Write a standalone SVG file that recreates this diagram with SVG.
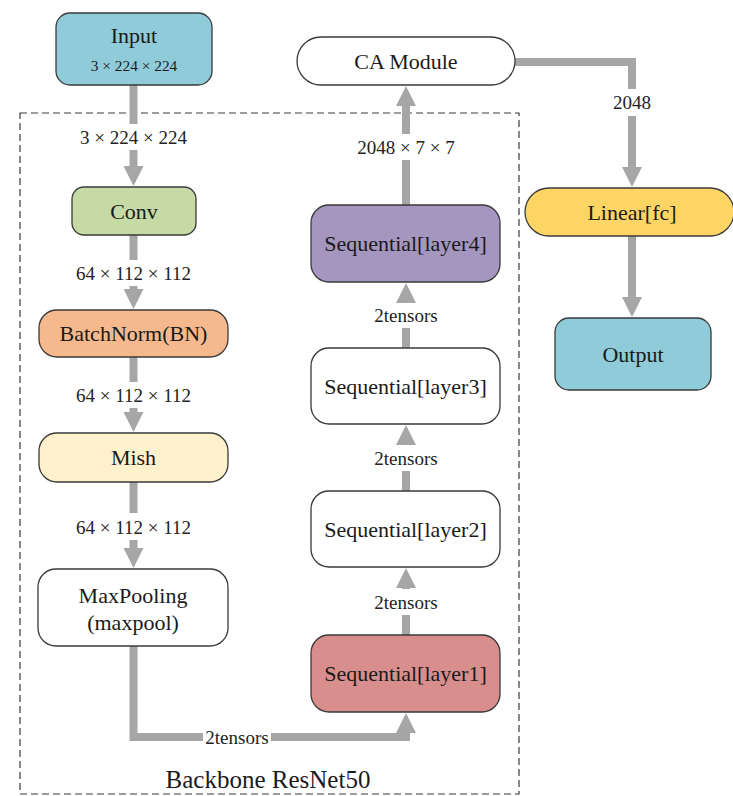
<svg xmlns="http://www.w3.org/2000/svg" width="733" height="796" viewBox="0 0 733 796">
  <defs>
    <marker id="head" viewBox="0 0 20 20" refX="8" refY="10" markerWidth="20" markerHeight="20" markerUnits="userSpaceOnUse" orient="auto">
      <path d="M0,0 L20,10 L0,20 Z" fill="#A6A6A6"/>
    </marker>
    <style>
      .node { stroke: #3a3a3a; stroke-width: 1.3; }
      .lbl { font-family: "Liberation Serif", "Times New Roman", serif; font-size: 22px; fill: #1a1a1a; text-anchor: middle; dominant-baseline: central; }
      .sub { font-family: "Liberation Serif", "Times New Roman", serif; font-size: 15.4px; fill: #1a1a1a; text-anchor: middle; dominant-baseline: central; }
      .elbl { font-family: "Liberation Serif", "Times New Roman", serif; font-size: 19px; fill: #222; text-anchor: middle; dominant-baseline: central; }
      .wire { fill: none; stroke: #A6A6A6; stroke-width: 8; stroke-linejoin: miter; stroke-linecap: butt; }
    </style>
  </defs>
  <rect width="733" height="796" fill="#ffffff"/>

  <!-- backbone container -->
  <g id="backbone">
    <rect x="20" y="113" width="499" height="681" fill="none" stroke="#3a3a3a" stroke-width="1.2" stroke-dasharray="7 4"/>
    <text class="lbl" x="268" y="779" style="font-size:25px">Backbone ResNet50</text>
  </g>

  <!-- connectors -->
  <g id="connectors">
    <path class="wire" d="M133.5,85 V124"/>
    <path class="wire" d="M133.5,150 V174" marker-end="url(#head)"/>
    <path class="wire" d="M133.5,235 V260"/>
    <path class="wire" d="M133.5,286 V297" marker-end="url(#head)"/>
    <path class="wire" d="M133.5,357 V382"/>
    <path class="wire" d="M133.5,408 V420" marker-end="url(#head)"/>
    <path class="wire" d="M133.5,482 V513"/>
    <path class="wire" d="M133.5,540 V556" marker-end="url(#head)"/>
    <path class="wire" d="M133.5,646 V737 H203"/>
    <path class="wire" d="M271,737 H406 V725" marker-end="url(#head)"/>
    <path class="wire" d="M406,635 V615"/>
    <path class="wire" d="M406,589 V580" marker-end="url(#head)"/>
    <path class="wire" d="M406,491 V471"/>
    <path class="wire" d="M406,445 V437" marker-end="url(#head)"/>
    <path class="wire" d="M406,348 V328"/>
    <path class="wire" d="M406,302 V295" marker-end="url(#head)"/>
    <path class="wire" d="M406,205 V160"/>
    <path class="wire" d="M406,134 V98" marker-end="url(#head)"/>
    <path class="wire" d="M515,62 H632 V89"/>
    <path class="wire" d="M632,116 V175" marker-end="url(#head)"/>
    <path class="wire" d="M632,236 V305" marker-end="url(#head)"/>

    <text class="elbl" x="133.5" y="137">3 × 224 × 224</text>
    <text class="elbl" x="133.5" y="273">64 × 112 × 112</text>
    <text class="elbl" x="133.5" y="395">64 × 112 × 112</text>
    <text class="elbl" x="133.5" y="527">64 × 112 × 112</text>
    <text class="elbl" x="237" y="737">2tensors</text>
    <text class="elbl" x="406" y="602">2tensors</text>
    <text class="elbl" x="406" y="458">2tensors</text>
    <text class="elbl" x="406" y="315">2tensors</text>
    <text class="elbl" x="406" y="147">2048 × 7 × 7</text>
    <text class="elbl" x="632" y="102">2048</text>
  </g>

  <!-- nodes -->
  <g id="input">
    <rect class="node" x="56" y="13" width="156" height="72" rx="14" fill="#8FCBD9"/>
    <text class="lbl" x="134" y="35">Input</text>
    <text class="sub" x="134" y="65">3 × 224 × 224</text>
  </g>
  <g id="conv">
    <rect class="node" x="72" y="187" width="124" height="48" rx="12" fill="#C5DAA4"/>
    <text class="lbl" x="134" y="211">Conv</text>
  </g>
  <g id="batchnorm">
    <rect class="node" x="39" y="310" width="189" height="47" rx="18" fill="#F6B98E"/>
    <text class="lbl" x="133.5" y="333.5">BatchNorm(BN)</text>
  </g>
  <g id="mish">
    <rect class="node" x="39" y="433" width="189" height="49" rx="18" fill="#FFF1CB"/>
    <text class="lbl" x="133.5" y="457.5">Mish</text>
  </g>
  <g id="maxpool">
    <rect class="node" x="38" y="569" width="190" height="77" rx="18" fill="#ffffff"/>
    <text class="lbl" x="133" y="595">MaxPooling</text>
    <text class="lbl" x="133" y="622">(maxpool)</text>
  </g>
  <g id="layer1">
    <rect class="node" x="311" y="635" width="189" height="77" rx="18" fill="#D98E8E"/>
    <text class="lbl" x="405.5" y="673.5">Sequential[layer1]</text>
  </g>
  <g id="layer2">
    <rect class="node" x="311" y="491" width="189" height="76" rx="18" fill="#ffffff"/>
    <text class="lbl" x="405.5" y="529">Sequential[layer2]</text>
  </g>
  <g id="layer3">
    <rect class="node" x="311" y="348" width="189" height="76" rx="18" fill="#ffffff"/>
    <text class="lbl" x="405.5" y="386">Sequential[layer3]</text>
  </g>
  <g id="layer4">
    <rect class="node" x="311" y="205" width="189" height="77" rx="18" fill="#A596C0"/>
    <text class="lbl" x="405.5" y="243.5">Sequential[layer4]</text>
  </g>
  <g id="ca-module">
    <rect class="node" x="297" y="37" width="218" height="48" rx="24" fill="#ffffff"/>
    <text class="lbl" x="406" y="61">CA Module</text>
  </g>
  <g id="linear">
    <rect class="node" x="525" y="188" width="209" height="48" rx="24" fill="#FDD565"/>
    <text class="lbl" x="632" y="212">Linear[fc]</text>
  </g>
  <g id="output">
    <rect class="node" x="555" y="318" width="156" height="72" rx="14" fill="#8FCBD9"/>
    <text class="lbl" x="633" y="354">Output</text>
  </g>
</svg>
